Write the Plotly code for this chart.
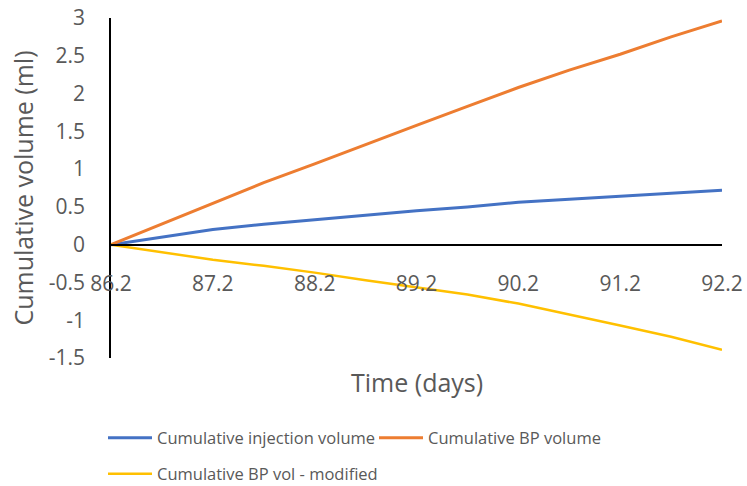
import plotly.graph_objects as go

# Time axis (days) and cumulative volumes (ml)
days = [86.2, 86.7, 87.2, 87.7, 88.2, 88.7, 89.2, 89.7, 90.2, 90.7, 91.2, 91.7, 92.2]
injection_volume = [0, 0.10, 0.20, 0.27, 0.33, 0.39, 0.45, 0.50, 0.56, 0.60, 0.64, 0.68, 0.72]
bp_volume = [0, 0.27, 0.55, 0.82, 1.07, 1.33, 1.58, 1.83, 2.08, 2.31, 2.52, 2.75, 2.96]
bp_vol_modified = [0, -0.10, -0.20, -0.28, -0.37, -0.47, -0.56, -0.66, -0.78, -0.92, -1.07, -1.22, -1.39]

x_ticks = [86.2, 87.2, 88.2, 89.2, 90.2, 91.2, 92.2]
y_ticks = [-1.5, -1, -0.5, 0, 0.5, 1, 1.5, 2, 2.5, 3]

TEXT = "#595959"
FONT = "Open Sans"

fig = go.Figure()
fig.add_trace(go.Scatter(x=days, y=injection_volume, mode="lines",
                         name="Cumulative injection volume",
                         line=dict(color="#4472C4", width=3), legend="legend"))
fig.add_trace(go.Scatter(x=days, y=bp_volume, mode="lines",
                         name="Cumulative BP volume",
                         line=dict(color="#ED7D31", width=3), legend="legend"))
fig.add_trace(go.Scatter(x=days, y=bp_vol_modified, mode="lines",
                         name="Cumulative BP vol - modified",
                         line=dict(color="#FFC000", width=2.5), legend="legend2"))

legend_common = dict(orientation="h", xref="container", yref="container",
                     xanchor="left", yanchor="middle", itemwidth=44,
                     font=dict(size=16.5, color=TEXT), bgcolor="rgba(0,0,0,0)")

fig.update_layout(
    width=747, height=486,
    margin=dict(l=111, r=25, t=18, b=128, autoexpand=False),
    paper_bgcolor="white", plot_bgcolor="white",
    font=dict(family=FONT, color=TEXT),
    xaxis=dict(
        range=[86.2, 92.2], tickvals=x_ticks, ticktext=[f"{v:.1f}" for v in x_ticks],
        showgrid=False, zeroline=False, showline=True, linecolor="black", linewidth=1.5,
        ticks="", ticklabelstandoff=20, tickfont=dict(size=21, color=TEXT),
        anchor="free", position=1/3, automargin=False,
    ),
    yaxis=dict(
        range=[-1.5, 3], tickvals=y_ticks, ticktext=[f"{v:g}" for v in y_ticks],
        showgrid=False, zeroline=False, showline=True, linecolor="black", linewidth=1.5,
        ticks="", ticklabelstandoff=20, tickfont=dict(size=21, color=TEXT), automargin=False,
        title=dict(text="Cumulative volume (ml)", font=dict(size=25, color=TEXT), standoff=8),
    ),
    legend=dict(x=103 / 747, y=(486 - 438) / 486, entrywidth=212, entrywidthmode="pixels",
                **legend_common),
    legend2=dict(x=103 / 747, y=(486 - 474) / 486, **legend_common),
    annotations=[dict(text="Time (days)", x=0.5, y=-24 / 340, xref="paper", yref="paper",
                      xanchor="center", yanchor="middle", showarrow=False,
                      font=dict(size=25, color=TEXT))],
)

fig.write_html("out.html")
